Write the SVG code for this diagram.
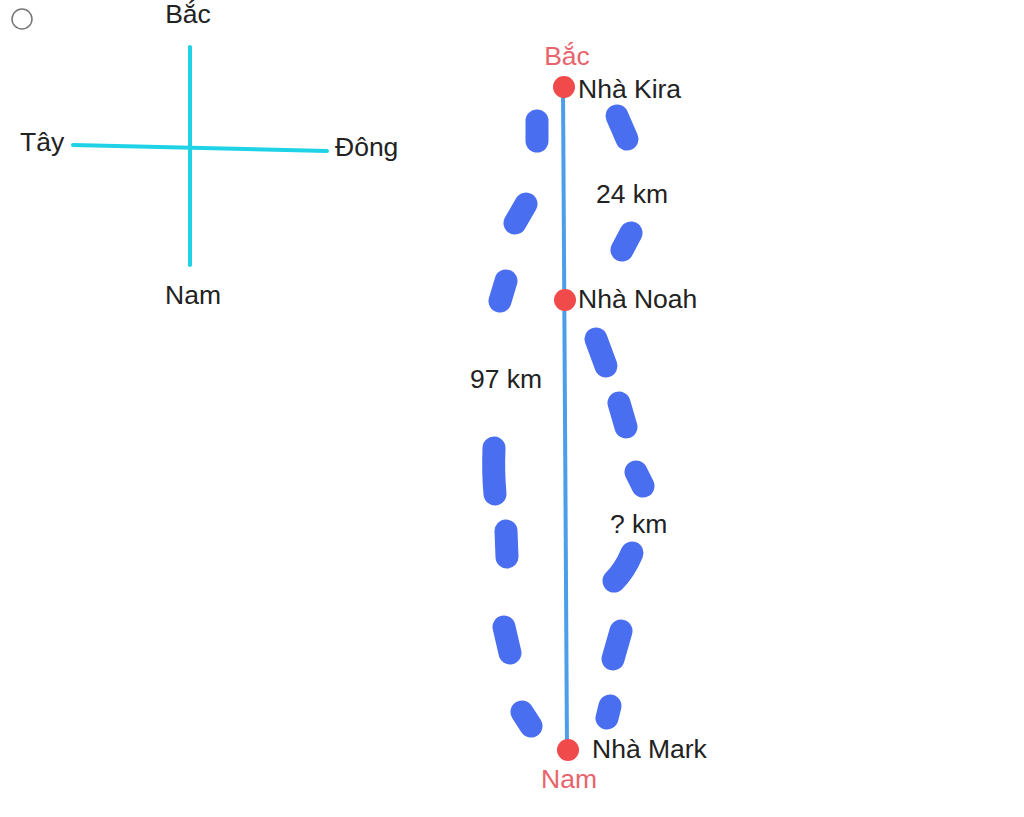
<svg xmlns="http://www.w3.org/2000/svg" width="1024" height="817" viewBox="0 0 1024 817">
<style>
.t{font-family:"Liberation Sans",Arial,sans-serif;font-size:26.5px;fill:#222}
.r{font-family:"Liberation Sans",Arial,sans-serif;font-size:26.5px;fill:#E8646C}
.c{stroke:#1FD2E6;stroke-width:4;stroke-linecap:round}
.d{stroke:#4A6EF0;stroke-width:23;stroke-linecap:round;fill:none}
.dot{fill:#F04A4A}
</style>
<rect width="1024" height="817" fill="#fff"/>
<g id="radio"><circle cx="22" cy="19" r="10" fill="none" stroke="#777" stroke-width="1.5"/></g>
<g id="compass">
<line class="c" x1="190" y1="47" x2="190" y2="265"/>
<line class="c" x1="73" y1="145" x2="327" y2="151"/>
<text class="t" x="188" y="23" text-anchor="middle">Bắc</text>
<text class="t" x="20" y="151">Tây</text>
<text class="t" x="335" y="156">Đông</text>
<text class="t" x="165" y="304">Nam</text>
</g>
<g id="dashes">
<line class="d" x1="537" y1="121" x2="537" y2="141"/>
<line class="d" x1="526" y1="204" x2="515" y2="223"/>
<line class="d" x1="506" y1="281" x2="500" y2="301"/>
<path class="d" d="M494 448 Q493 472 495 494"/>
<line class="d" x1="506" y1="531" x2="507" y2="557"/>
<line class="d" x1="504" y1="627" x2="510" y2="653"/>
<line class="d" x1="522" y1="712" x2="531" y2="726"/>
<line class="d" x1="617" y1="116" x2="627" y2="139"/>
<line class="d" x1="631" y1="233" x2="622" y2="250"/>
<line class="d" x1="596" y1="339" x2="606" y2="366"/>
<line class="d" x1="619" y1="403" x2="626" y2="427"/>
<line class="d" x1="636" y1="472" x2="643" y2="486"/>
<path class="d" d="M632 553 Q625 570 614 581"/>
<line class="d" x1="621" y1="631" x2="613" y2="659"/>
<line class="d" x1="610" y1="706" x2="607" y2="718"/>
</g>
<g id="connectors">
<line x1="563" y1="87" x2="567" y2="750" stroke="#4C9EE8" stroke-width="4"/>
</g>
<g id="kira"><circle class="dot" cx="564" cy="87" r="11"/><text class="r" x="567" y="65" text-anchor="middle">Bắc</text><text class="t" x="578" y="98">Nhà Kira</text></g>
<g id="noah"><circle class="dot" cx="565" cy="300" r="11"/><text class="t" x="578" y="308">Nhà Noah</text></g>
<g id="mark"><circle class="dot" cx="568" cy="750" r="11"/><text class="t" x="592" y="758">Nhà Mark</text><text class="r" x="569" y="788" text-anchor="middle">Nam</text></g>
<g id="labels">
<text class="t" x="596" y="203">24 km</text>
<text class="t" x="470" y="388">97 km</text>
<text class="t" x="610" y="533">? km</text>
</g>
</svg>
